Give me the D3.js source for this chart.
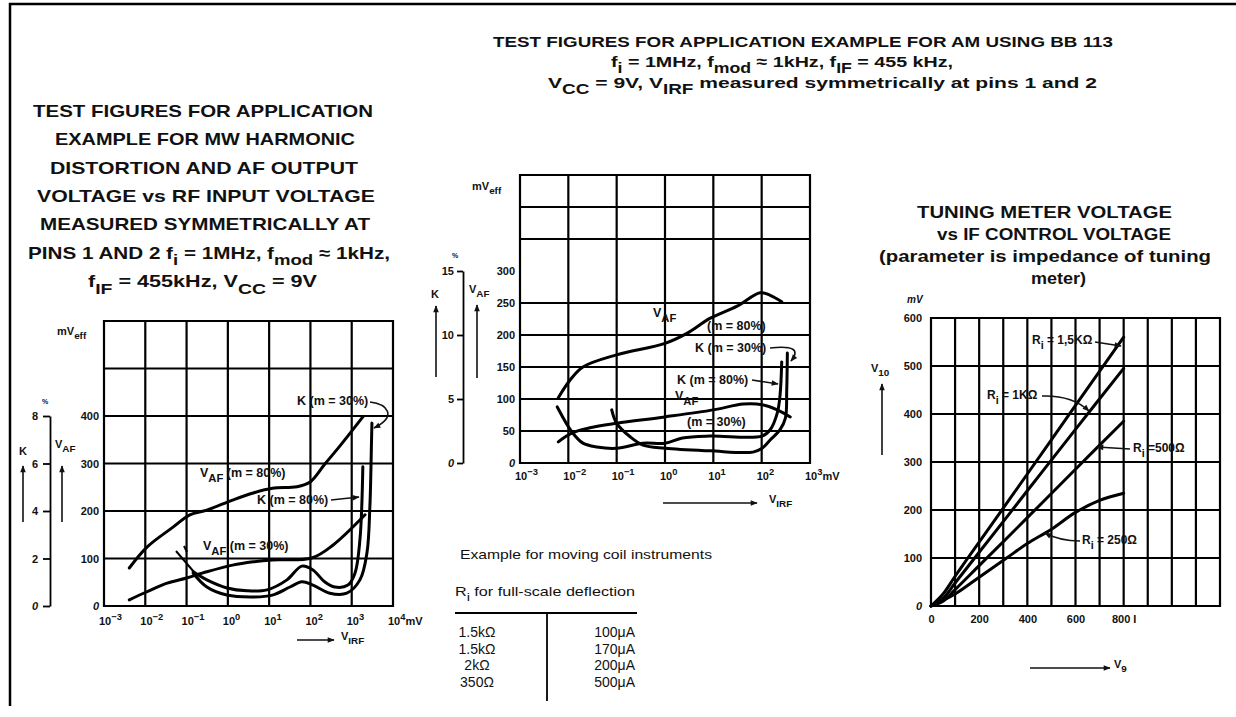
<!DOCTYPE html>
<html>
<head>
<meta charset="utf-8">
<script src="https://cdnjs.cloudflare.com/ajax/libs/d3/7.8.5/d3.min.js"></script>
<style>
  body { margin: 0; background: #fff; }
  svg { display: block; }
  text { font-family: "Liberation Sans", Arial, Helvetica, sans-serif; fill: #111; }
</style>
</head>
<body>
<svg id="chart" width="1236" height="717"></svg>
<script>
// ---- left chart: MW, V_IRF in mV, V_AF in mV, K in %
const mwDecades = [1e-3, 1e-2, 1e-1, 1e0, 1e1, 1e2, 1e3, 1e4];
const mwVafTicks = [0, 100, 200, 300, 400];
const mwKTicks = [0, 2, 4, 6, 8];
const mwVaf80 = [[0.0041,80],[0.011,124],[0.047,166],[0.12,192],[0.31,202],[1.3,223],[4.1,238],[12,248],[47,251],[98,261],[224,299],[520,337],[1860,398]];
const mwVaf30 = [[0.0041,13],[0.011,30],[0.034,48],[0.10,59],[0.31,72],[1.3,86],[4.1,93],[12,97],[107,101],[350,128],[2100,192]];
const mwK80 = [[0.145,1.44],[0.31,1.10],[0.95,0.76],[2.9,0.64],[8.9,0.68],[27,1.10],[62,1.68],[115,1.52],[220,1.02],[390,0.80],[810,0.88],[1200,1.38],[1580,2.78],[1860,5.86]];
const mwK30 = [[0.145,1.38],[0.31,0.80],[0.95,0.46],[4.1,0.38],[12,0.46],[32,0.80],[62,1.02],[115,0.88],[295,0.54],[760,0.54],[1580,1.10],[2340,2.24],[2750,4.16],[3020,6.98],[3090,7.70]];

// ---- middle chart: AM
const amDecades = [1e-3, 1e-2, 1e-1, 1e0, 1e1, 1e2, 1e3];
const amVafTicks = [0, 50, 100, 150, 200, 250, 300];
const amGridY = [0, 50, 100, 150, 200, 250, 350, 400, 450];
const amKTicks = [0, 5, 10, 15];
const amVaf80 = [[0.0062,102],[0.011,130],[0.020,150],[0.10,169],[1.0,187],[2.9,203],[8.5,226],[31,245],[93,266],[150,262],[260,252]];
const amVaf30 = [[0.0062,33],[0.012,47],[0.028,55],[0.10,62],[1.0,72],[10,83],[42,92],[102,91],[210,83],[390,72]];
const amK80 = [[0.0059,4.38],[0.012,2.40],[0.020,1.55],[0.039,1.25],[0.10,1.15],[0.35,1.55],[1.0,1.55],[2.3,1.95],[8.5,2.10],[102,2.10],[150,2.60],[210,3.90],[240,5.30],[260,7.90]];
const amK30 = [[0.079,4.15],[0.10,3.10],[0.19,2.05],[0.35,1.40],[1.0,1.15],[8.5,0.95],[66,0.85],[102,1.15],[150,1.80],[240,2.60],[310,3.50],[330,5.70],[340,8.60]];

// ---- right chart: tuning meter, V9 and V10 in mV
const tuneXTicks = [0, 200, 400, 600, 800];
const tuneXLabels = ["0", "200", "400", "600", "800 I"];
const tuneYTicks = [0, 100, 200, 300, 400, 500, 600];
const tuneR15 = [[0,0],[50,25],[100,62],[153,100],[200,133],[400,275],[600,418],[800,560]];
const tuneR1k = [[0,0],[50,16],[100,48],[200,112],[400,240],[600,368],[800,495]];
const tuneR500 = [[0,0],[50,10],[100,34],[200,84],[400,184],[600,285],[800,385]];
const tuneR250 = [[0,0],[100,25],[200,60],[314,100],[400,130],[500,160],[600,195],[700,220],[800,235]];

// ---- table
const tableR = ["1.5k\u03a9", "1.5k\u03a9", "2k\u03a9", "350\u03a9"];
const tableI = ["100\u03bcA", "170\u03bcA", "200\u03bcA", "500\u03bcA"];

const svg = d3.select("#chart");

svg.append("defs").append("marker")
    .attr("id", "ah")
    .attr("viewBox", "0 0 10 10")
    .attr("refX", 9).attr("refY", 5)
    .attr("markerUnits", "userSpaceOnUse")
    .attr("markerWidth", 8).attr("markerHeight", 7)
    .attr("orient", "auto")
    .append("path").attr("d", "M0,1L10,5L0,9z").attr("fill", "#111");

// text with _{sub} and ^{sup}
function rich(parent, s, x, y, o) {
    o = o || {};
    const size = o.size || 11;
    const t = parent.append("text")
        .attr("x", x).attr("y", y)
        .attr("font-size", size)
        .attr("font-weight", o.weight || "bold")
        .attr("text-anchor", o.anchor || "start");
    if (o.italic) t.attr("font-style", "italic");
    if (o.len) t.attr("textLength", o.len).attr("lengthAdjust", "spacingAndGlyphs");
    let cur = 0, last = 0, m;
    const re = /([_^])\{([^}]*)\}/g;
    const seg = (txt, off, sz) => {
        if (!txt) return;
        const ts = t.append("tspan").text(txt);
        if (off !== cur) ts.attr("dy", off - cur);
        if (sz !== size) ts.attr("font-size", sz);
        cur = off;
    };
    while ((m = re.exec(s)) !== null) {
        seg(s.slice(last, m.index), 0, size);
        if (m[1] === "_") seg(m[2], size * 0.4, size * 0.9);
        else seg(m[2], -size * 0.45, size * 0.85);
        last = re.lastIndex;
    }
    seg(s.slice(last), 0, size);
    return t;
}

function arrow(parent, d, w) {
    parent.append("path").attr("d", d)
        .attr("fill", "none").attr("stroke", "#111")
        .attr("stroke-width", w || 1.6)
        .attr("marker-end", "url(#ah)");
}

function grid(g, x, y, xs, ys) {
    const [ya, yb] = y.range(), [xa, xb] = x.range();
    g.append("g").selectAll("line").data(xs).join("line")
        .attr("x1", d => x(d)).attr("x2", d => x(d))
        .attr("y1", ya + 1).attr("y2", yb - 1)
        .attr("stroke", "#000").attr("stroke-width", 2.2);
    g.append("g").selectAll("line").data(ys).join("line")
        .attr("y1", d => y(d)).attr("y2", d => y(d))
        .attr("x1", xa - 1).attr("x2", xb + 1)
        .attr("stroke", "#000").attr("stroke-width", 2.2);
}

function curve(g, data, x, y) {
    g.append("path").datum(data)
        .attr("d", d3.line().x(d => x(d[0])).y(d => y(d[1])).curve(d3.curveCatmullRom.alpha(0.5)))
        .attr("fill", "none").attr("stroke", "#000")
        .attr("stroke-width", 3).attr("stroke-linecap", "round");
}

function styleAxis(g, size) {
    g.select(".domain").attr("stroke", "#000").attr("stroke-width", 1.8);
    g.selectAll(".tick line").attr("stroke", "#000").attr("stroke-width", 1.8);
    g.selectAll(".tick text")
        .attr("font-size", size || 11).attr("font-weight", "bold")
        .attr("font-family", '"Liberation Sans", Arial, sans-serif')
        .attr("fill", "#111");
    g.selectAll(".tick text").filter(d => d === 0).attr("font-style", "italic");
}

function decadeLabel(d) {
    const e = Math.round(Math.log10(d));
    return "10^{" + (e < 0 ? "\u2212" + (-e) : e) + "}";
}

// frame
svg.append("path").attr("d", "M10,706V4H1236")
    .attr("fill", "none").attr("stroke", "#000").attr("stroke-width", 2.5);

// ================= titles
const leftTitle = [
    "TEST FIGURES FOR APPLICATION",
    "EXAMPLE FOR MW HARMONIC",
    "DISTORTION AND AF OUTPUT",
    "VOLTAGE vs RF INPUT VOLTAGE",
    "MEASURED SYMMETRICALLY AT",
    "PINS 1 AND 2 f_{i} = 1MHz, f_{mod} \u2248 1kHz,",
    "f_{IF} = 455kHz, V_{CC} = 9V"
];
const leftTitleX = [33, 55, 50, 37, 40, 28, 88];
const leftTitleW = [340, 300, 308, 338, 330, 362, 229];
const titles = svg.append("g");
leftTitle.forEach((s, i) => rich(titles, s, leftTitleX[i], 117 + i * 28.3, { size: 17, len: leftTitleW[i] }));

const midTitle = [
    "TEST FIGURES FOR APPLICATION EXAMPLE FOR AM USING BB 113",
    "f_{i} = 1MHz, f_{mod} \u2248 1kHz, f_{IF} = 455 kHz,",
    "V_{CC} = 9V, V_{IRF} measured symmetrically at pins 1 and 2"
];
const midTitleX = [493, 611, 548];
const midTitleW = [620, 342, 549];
const midTitleY = [47, 67, 88];
midTitle.forEach((s, i) => rich(titles, s, midTitleX[i], midTitleY[i], { size: 15.5, len: midTitleW[i] }));

const rightTitle = [
    "TUNING METER VOLTAGE",
    "vs IF CONTROL VOLTAGE",
    "(parameter is impedance of tuning",
    "meter)"
];
const rightTitleX = [917, 937, 879, 1031];
const rightTitleW = [255, 234, 332, 55];
rightTitle.forEach((s, i) => rich(titles, s, rightTitleX[i], 218 + i * 22, { size: 16, len: rightTitleW[i] }));

// ================= left chart
const xL = d3.scaleLog().domain([1e-3, 1e4]).range([104, 393]);
const yL = d3.scaleLinear().domain([0, 600]).range([606, 321]);
const kL = d3.scaleLinear().domain([0, 8]).range([yL(0), yL(400)]);
const gL = svg.append("g");
grid(gL, xL, yL, mwDecades, d3.range(0, 601, 100));

gL.append("g").attr("transform", "translate(104,0)")
    .call(d3.axisLeft(yL).tickValues(mwVafTicks).tickSize(0).tickPadding(5).tickFormat(d3.format("d")))
    .call(g => g.select(".domain").remove())
    .call(g => styleAxis(g, 11));
gL.append("g").attr("transform", "translate(50,0)")
    .call(d3.axisLeft(kL).tickValues(mwKTicks).tickSize(7).tickSizeOuter(0).tickPadding(5))
    .call(g => styleAxis(g, 11));

mwDecades.forEach(d => rich(gL, decadeLabel(d) + (d === 1e4 ? "mV" : ""), xL(d) - 5, 625, { size: 11 }));
rich(gL, "mV_{eff}", 57, 335, { size: 11 });
rich(gL, "%", 42, 404, { size: 7 });
rich(gL, "K", 19, 455, { size: 11 });
rich(gL, "V_{AF}", 55, 448, { size: 11 });
arrow(gL, "M23,522V466");
arrow(gL, "M62,522V466");
arrow(gL, "M297,640H334");
rich(gL, "V_{IRF}", 341, 640, { size: 11 });

curve(gL, mwVaf80, xL, yL);
curve(gL, mwVaf30, xL, yL);
curve(gL, mwK80, xL, kL);
curve(gL, mwK30, xL, kL);
gL.append("path").attr("d", "M176,551L194,572M184,546L187,552")
    .attr("stroke", "#000").attr("stroke-width", 2).attr("fill", "none");

rich(gL, "V_{AF} (m = 80%)", 200, 477, { size: 12.5 });
rich(gL, "K (m = 80%)", 257, 504, { size: 12.5 });
arrow(gL, "M331,500L359,497");
rich(gL, "V_{AF} (m = 30%)", 203, 550, { size: 12.5 });
rich(gL, "K (m = 30%)", 297, 405, { size: 12.5 });
arrow(gL, "M370,402C387,404 398,416 374,428");

// ================= middle chart
const xM = d3.scaleLog().domain([1e-3, 1e3]).range([520, 810]);
const yM = d3.scaleLinear().domain([0, 450]).range([463, 175]);
const kM = d3.scaleLinear().domain([0, 15]).range([yM(0), yM(300)]);
const gM = svg.append("g");
grid(gM, xM, yM, amDecades, amGridY);

gM.append("g").attr("transform", "translate(520,0)")
    .call(d3.axisLeft(yM).tickValues(amVafTicks).tickSize(0).tickPadding(5).tickFormat(d3.format("d")))
    .call(g => g.select(".domain").remove())
    .call(g => styleAxis(g, 11));
gM.append("g").attr("transform", "translate(463,0)")
    .call(d3.axisLeft(kM).tickValues(amKTicks).tickSize(6).tickSizeOuter(0).tickPadding(3))
    .call(g => styleAxis(g, 11));

amDecades.forEach(d => rich(gM, decadeLabel(d) + (d === 1e3 ? "mV" : ""), xM(d) - 5, 480, { size: 11 }));
rich(gM, "mV_{eff}", 472, 190, { size: 11 });
rich(gM, "%", 452, 258, { size: 7 });
rich(gM, "K", 431, 298, { size: 11 });
rich(gM, "V_{AF}", 469, 293, { size: 11 });
arrow(gM, "M436,377V306");
arrow(gM, "M477,378V305");
arrow(gM, "M663,503H757");
rich(gM, "V_{IRF}", 769, 503, { size: 11 });

curve(gM, amVaf80, xM, yM);
curve(gM, amVaf30, xM, yM);
curve(gM, amK80, xM, kM);
curve(gM, amK30, xM, kM);

rich(gM, "V_{AF}", 653, 317, { size: 12.5 });
rich(gM, "(m = 80%)", 707, 330, { size: 12.5 });
rich(gM, "K (m = 30%)", 695, 352, { size: 12.5 });
arrow(gM, "M770,348Q805,344 791,361");
rich(gM, "K (m = 80%)", 677, 384, { size: 12.5 });
arrow(gM, "M752,380L778,384");
rich(gM, "V_{AF}", 675, 400, { size: 12.5 });
rich(gM, "(m = 30%)", 687, 426, { size: 12.5 });

// ================= right chart
const xR = d3.scaleLinear().domain([0, 1200]).range([931, 1220]);
const yR = d3.scaleLinear().domain([0, 600]).range([606, 318]);
const gR = svg.append("g");
grid(gR, xR, yR, d3.range(0, 1201, 100), d3.range(0, 601, 100));

gR.append("g").attr("transform", "translate(931,0)")
    .call(d3.axisLeft(yR).tickValues(tuneYTicks).tickSize(0).tickPadding(9).tickFormat(d3.format("d")))
    .call(g => g.select(".domain").remove())
    .call(g => styleAxis(g, 11));
gR.append("g").attr("transform", "translate(0,606)")
    .call(d3.axisBottom(xR).tickValues(tuneXTicks).tickSize(0).tickPadding(9)
        .tickFormat((d, i) => tuneXLabels[i]))
    .call(g => g.select(".domain").remove())
    .call(g => styleAxis(g, 11))
    .call(g => g.selectAll(".tick text").attr("font-style", null));

rich(gR, "mV", 907, 303, { size: 10, italic: true });
rich(gR, "V_{10}", 871, 372, { size: 11 });
arrow(gR, "M882,455V384");
arrow(gR, "M1030,668H1110");
rich(gR, "V_{9}", 1114, 668, { size: 11 });

curve(gR, tuneR15, xR, yR);
curve(gR, tuneR1k, xR, yR);
curve(gR, tuneR500, xR, yR);
curve(gR, tuneR250, xR, yR);

rich(gR, "R_{i} = 1,5K\u03a9", 1032, 344, { size: 12 });
arrow(gR, "M1095,342L1121,346");
rich(gR, "R_{i} = 1K\u03a9", 987, 399, { size: 12 });
arrow(gR, "M1042,396Q1072,395 1089,411");
rich(gR, "R_{i} =500\u03a9", 1133, 452, { size: 12 });
arrow(gR, "M1130,449L1097,447");
rich(gR, "R_{i} = 250\u03a9", 1082, 544, { size: 12 });
arrow(gR, "M1080,541Q1060,541 1045,533");

// ================= table
const gT = svg.append("g");
rich(gT, "Example for moving coil instruments", 460, 559, { size: 13, weight: "normal", len: 252 });
rich(gT, "R_{i} for full-scale deflection", 455, 596, { size: 13, weight: "normal", len: 180 });
gT.append("line").attr("x1", 455).attr("x2", 637).attr("y1", 613).attr("y2", 613)
    .attr("stroke", "#000").attr("stroke-width", 1.8);
gT.append("line").attr("x1", 547).attr("x2", 547).attr("y1", 613).attr("y2", 701)
    .attr("stroke", "#000").attr("stroke-width", 1.8);
gT.selectAll("text.r").data(tableR).join("text").attr("class", "r")
    .attr("x", 477).attr("y", (d, i) => 637 + i * 16.7)
    .attr("text-anchor", "middle").attr("font-size", 14).text(d => d);
gT.selectAll("text.i").data(tableI).join("text").attr("class", "i")
    .attr("x", 635).attr("y", (d, i) => 637 + i * 16.7)
    .attr("text-anchor", "end").attr("font-size", 14).text(d => d);
</script>
</body>
</html>
